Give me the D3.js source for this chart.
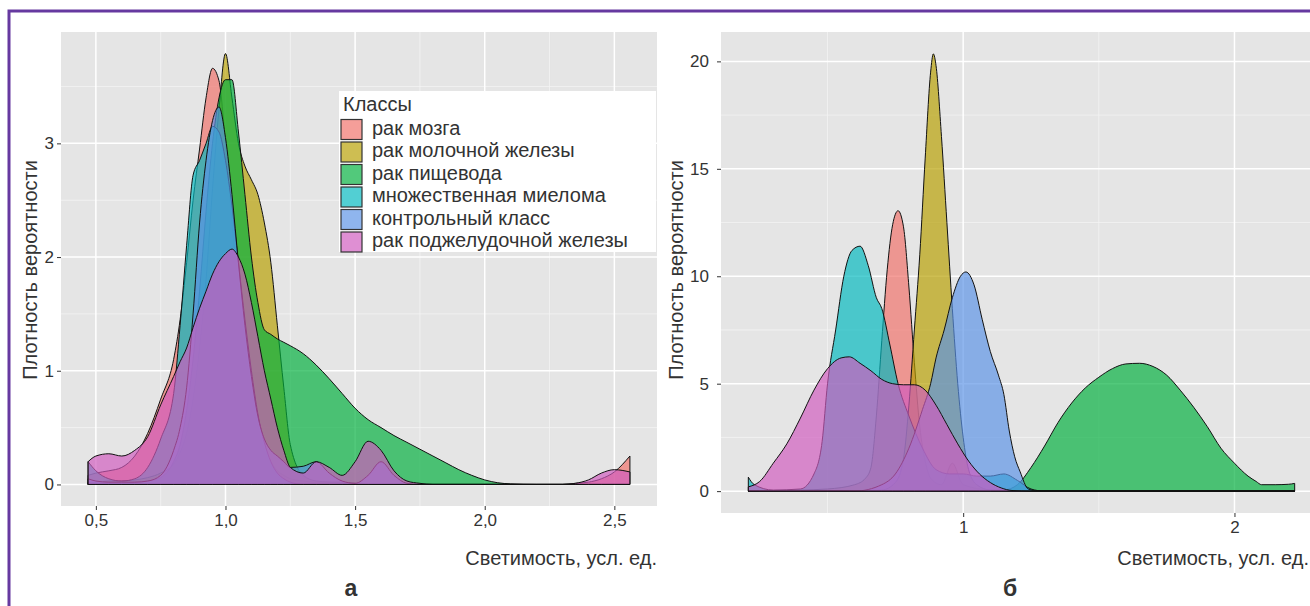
<!DOCTYPE html>
<html>
<head>
<meta charset="utf-8">
<script src="https://cdn.jsdelivr.net/npm/d3@7"></script>
<style>
  body { margin: 0; background: #fff; }
  svg text { font-family: "Liberation Sans", "DejaVu Sans", sans-serif; fill: #333; }
</style>
</head>
<body>
<svg id="fig"></svg>
<script>
// classes and fill colours (ggplot hues as they look in the printed figure)
var classes = ["рак мозга", "рак молочной железы", "рак пищевода",
  "множественная миелома", "контрольный класс", "рак поджелудочной железы"];
var colors = ["#F07068", "#B79F00", "#00B03C", "#00B8BE", "#5A92E6", "#D05ABE"];

// panel а : density values on a shared grid
var leftX = [0.47, 0.5, 0.55, 0.6, 0.65, 0.7, 0.75, 0.8, 0.825, 0.85,
  0.875, 0.9, 0.925, 0.95, 0.975, 1.0, 1.025, 1.05, 1.075, 1.1,
  1.125, 1.15, 1.175, 1.2, 1.225, 1.25, 1.3, 1.35, 1.4, 1.45,
  1.5, 1.55, 1.6, 1.65, 1.7, 1.75, 1.8, 1.85, 1.9, 1.95,
  2.0, 2.05, 2.1, 2.2, 2.3, 2.35, 2.4, 2.45, 2.5, 2.56];
var brainA = [0.08, 0.1, 0.12, 0.15, 0.25, 0.45, 0.75, 1.1, 1.45, 1.95,
  2.5, 2.95, 3.4, 3.66, 3.55, 3.0, 2.3, 1.7, 1.2, 0.8,
  0.5, 0.3, 0.2, 0.12, 0.08, 0.05, 0.03, 0.02, 0.02, 0.02,
  0.01, 0, 0, 0, 0, 0, 0, 0, 0, 0,
  0, 0, 0, 0, 0, 0.01, 0.02, 0.05, 0.11, 0.25];
var breastA = [0.02, 0.02, 0.03, 0.03, 0.04, 0.06, 0.1, 0.18, 0.28, 0.45,
  0.75, 1.2, 1.8, 2.6, 3.3, 3.79, 3.4, 3.0, 2.8, 2.68,
  2.55, 2.3, 1.95, 1.4, 0.85, 0.35, 0.08, 0.03, 0.02, 0.01,
  0, 0, 0, 0, 0, 0, 0, 0, 0, 0,
  0, 0, 0, 0, 0, 0, 0, 0, 0, 0];
var esophA = [0.01, 0.01, 0.01, 0.01, 0.02, 0.03, 0.06, 0.2, 0.35, 0.65,
  1.1, 1.7, 2.4, 3.0, 3.4, 3.56, 3.56, 3.1, 2.55, 2.0,
  1.6, 1.36, 1.32, 1.28, 1.25, 1.22, 1.15, 1.05, 0.93, 0.8,
  0.67, 0.57, 0.5, 0.43, 0.37, 0.31, 0.25, 0.19, 0.13, 0.08,
  0.04, 0.015, 0.005, 0, 0, 0, 0, 0, 0, 0];
var myelA = [0.2, 0.12, 0.05, 0.03, 0.05, 0.15, 0.4, 0.8, 1.4, 2.1,
  2.72, 2.85, 3.0, 3.15, 3.1, 2.85, 2.45, 1.95, 1.45, 1.0,
  0.62, 0.37, 0.2, 0.1, 0.05, 0.02, 0, 0, 0, 0,
  0, 0, 0, 0, 0, 0, 0, 0, 0, 0,
  0, 0, 0, 0, 0, 0, 0, 0, 0, 0];
var ctrlA = [0.05, 0.03, 0.02, 0.02, 0.02, 0.03, 0.08, 0.3, 0.5, 0.85,
  1.5, 2.3, 2.85, 3.2, 3.32, 3.05, 2.55, 1.95, 1.4, 0.95,
  0.6, 0.4, 0.3, 0.25, 0.2, 0.15, 0.16, 0.2, 0.1, 0.03,
  0.01, 0.08, 0.2, 0.08, 0.01, 0, 0, 0, 0, 0,
  0, 0, 0, 0, 0, 0, 0, 0, 0, 0];
var pancA = [0.2, 0.25, 0.27, 0.25, 0.3, 0.42, 0.7, 0.95, 1.08, 1.2,
  1.38, 1.55, 1.7, 1.85, 1.96, 2.03, 2.07, 2.0, 1.85, 1.6,
  1.3, 1.0, 0.75, 0.5, 0.3, 0.15, 0.1, 0.2, 0.15, 0.08,
  0.2, 0.38, 0.3, 0.12, 0.03, 0.01, 0, 0, 0, 0,
  0, 0, 0, 0, 0, 0.01, 0.04, 0.1, 0.13, 0.11];

// panel б : each class on its own grid
var brainBx = [0.208, 0.3, 0.4, 0.5, 0.6, 0.64, 0.66, 0.68, 0.7, 0.72, 0.74, 0.76, 0.78,
  0.8, 0.82, 0.84, 0.86, 0.88, 0.92, 0.96, 1.0, 1.1, 1.2, 1.4, 2.222];
var brainBy = [0, 0.02, 0.05, 0.1, 0.3, 0.6, 1.1, 3.5, 7, 10.3, 12.4, 13.05, 12.3,
  9.5, 6, 3, 1.4, 0.6, 0.3, 1.3, 0.3, 0.05, 0.02, 0, 0];
var breastBx = [0.208, 0.6, 0.7, 0.75, 0.78, 0.8, 0.82, 0.84, 0.86, 0.88, 0.89,
  0.9, 0.92, 0.94, 0.96, 0.98, 1.0, 1.02, 1.05, 1.1, 1.2, 2.222];
var breastBy = [0, 0, 0.05, 0.4, 1.5, 4, 7.5, 11, 15.5, 19.5, 20.35,
  19.8, 16.5, 12.5, 8.5, 5, 2.5, 1, 0.3, 0.05, 0, 0];
var esophBx = [0.208, 1.0, 1.15, 1.2, 1.25, 1.3, 1.35, 1.4, 1.45, 1.5, 1.55, 1.6, 1.65,
  1.7, 1.75, 1.8, 1.85, 1.9, 1.95, 2.0, 2.05, 2.08, 2.1, 2.15, 2.2, 2.222];
var esophBy = [0, 0, 0.05, 0.3, 1.1, 2.1, 3.2, 4.1, 4.8, 5.3, 5.7, 5.92, 5.95,
  5.8, 5.4, 4.7, 3.9, 3.0, 2.0, 1.3, 0.7, 0.45, 0.3, 0.3, 0.32, 0.36];
var myelBx = [0.208, 0.23, 0.3, 0.4, 0.45, 0.48, 0.5, 0.53, 0.56, 0.59, 0.62, 0.65, 0.68, 0.7,
  0.73, 0.76, 0.8, 0.85, 0.9, 0.95, 1.0, 1.05, 1.1, 1.15, 1.2, 1.25, 1.3, 2.222];
var myelBy = [0.65, 0.3, 0.05, 0.1, 0.8, 2.3, 5, 7.5, 10, 11.2, 11.4, 10.5, 9, 8.5,
  6.8, 5, 3.5, 2, 1, 0.8, 0.8, 0.7, 0.7, 0.8, 0.5, 0.1, 0, 0];
var ctrlBx = [0.208, 0.6, 0.7, 0.75, 0.8, 0.85, 0.88, 0.9, 0.93, 0.96, 0.99, 1.01,
  1.04, 1.07, 1.1, 1.13, 1.15, 1.17, 1.19, 1.21, 1.24, 1.28, 2.222];
var ctrlBy = [0, 0, 0.3, 0.8, 2, 3.8, 5, 6.2, 7.5, 9.0, 10.0, 10.2,
  9.6, 8.0, 6.5, 5.4, 4.5, 2.8, 1.6, 0.9, 0.1, 0, 0];
var pancBx = [0.208, 0.25, 0.3, 0.35, 0.4, 0.45, 0.5, 0.55, 0.58, 0.62, 0.66, 0.7, 0.74,
  0.78, 0.82, 0.86, 0.9, 0.94, 0.98, 1.02, 1.06, 1.1, 1.14, 1.18, 1.25, 2.222];
var pancBy = [0.2, 0.45, 1.3, 2.2, 3.4, 4.7, 5.7, 6.2, 6.25, 5.95, 5.6, 5.2, 5.0,
  4.95, 4.95, 4.7, 4.0, 3.1, 2.2, 1.4, 0.8, 0.4, 0.15, 0.03, 0, 0];

// ticks
var leftXTicks = [0.5, 1.0, 1.5, 2.0, 2.5];
var leftXLabels = ["0,5", "1,0", "1,5", "2,0", "2,5"];
var leftYTicks = [0, 1, 2, 3];
var rightXTicks = [1, 2];
var rightYTicks = [0, 5, 10, 15, 20];

var xTitle = "Светимость, усл. ед.";
var yTitle = "Плотность вероятности";

var svg = d3.select("#fig").attr("width", 1310).attr("height", 606);

function zip(xs, ys) { return xs.map(function(v, i) { return [v, ys[i]]; }); }

var leftSeries = [brainA, breastA, esophA, myelA, ctrlA, pancA].map(function(ys) { return zip(leftX, ys); });
var rightSeries = [zip(brainBx, brainBy), zip(breastBx, breastBy), zip(esophBx, esophBy),
  zip(myelBx, myelBy), zip(ctrlBx, ctrlBy), zip(pancBx, pancBy)];

function drawPanel(series, box, opts) {
  var all = d3.merge(series);
  var xe = d3.extent(all, function(d) { return d[0]; });
  var ymax = d3.max(all, function(d) { return d[1]; });
  var xpad = (xe[1] - xe[0]) * 0.05;
  var x = d3.scaleLinear().domain([xe[0] - xpad, xe[1] + xpad]).range([box.x0, box.x1]);
  var y = d3.scaleLinear().domain([-ymax * 0.05, ymax * 1.05]).range([box.y1, box.y0]);

  var g = svg.append("g");
  g.append("rect").attr("x", box.x0).attr("y", box.y0)
    .attr("width", box.x1 - box.x0).attr("height", box.y1 - box.y0)
    .attr("fill", "#e5e5e5");

  // minor + major grid
  g.selectAll(".vmin").data(opts.xMinor).enter().append("line")
    .attr("x1", x).attr("x2", x).attr("y1", box.y0).attr("y2", box.y1)
    .attr("stroke", "#f4f4f4").attr("stroke-width", 0.8);
  g.selectAll(".hmin").data(opts.yMinor).enter().append("line")
    .attr("y1", y).attr("y2", y).attr("x1", box.x0).attr("x2", box.x1)
    .attr("stroke", "#f4f4f4").attr("stroke-width", 0.8);
  g.selectAll(".vmaj").data(opts.xTicks).enter().append("line")
    .attr("x1", x).attr("x2", x).attr("y1", box.y0).attr("y2", box.y1)
    .attr("stroke", "#fff").attr("stroke-width", 1.5);
  g.selectAll(".hmaj").data(opts.yTicks).enter().append("line")
    .attr("y1", y).attr("y2", y).attr("x1", box.x0).attr("x2", box.x1)
    .attr("stroke", "#fff").attr("stroke-width", 1.5);

  var area = d3.area()
    .x(function(d) { return x(d[0]); })
    .y0(y(0))
    .y1(function(d) { return y(d[1]); })
    .curve(d3.curveMonotoneX);

  g.selectAll(".dens").data(series).enter().append("path")
    .attr("d", area)
    .attr("fill", function(d, i) { return colors[i]; })
    .attr("fill-opacity", 0.68)
    .attr("stroke", "#111")
    .attr("stroke-width", 1)
    .attr("stroke-linejoin", "round");

  var xAxis = g.append("g").attr("transform", "translate(0," + box.y1 + ")")
    .call(d3.axisBottom(x).tickValues(opts.xTicks).tickFormat(function(d, i) { return opts.xLabels[i]; })
      .tickSize(4).tickPadding(4));
  var yAxis = g.append("g").attr("transform", "translate(" + box.x0 + ",0)")
    .call(d3.axisLeft(y).tickValues(opts.yTicks).tickFormat(d3.format("d"))
      .tickSize(4).tickPadding(opts.yPad));
  [xAxis, yAxis].forEach(function(a) {
    a.attr("font-family", null).attr("font-size", null);
    a.select(".domain").remove();
    a.selectAll(".tick line").attr("stroke", "#333");
    a.selectAll(".tick text").attr("fill", "#333").style("font-size", "17px");
  });

  g.append("text").attr("x", opts.xTitleX).attr("y", 565)
    .attr("text-anchor", "end").style("font-size", "20px").text(xTitle);
  g.append("text")
    .attr("transform", "translate(" + opts.yTitleX + ",270) rotate(-90)")
    .attr("text-anchor", "middle").attr("dy", "0.35em")
    .style("font-size", "20px").text(yTitle);
  g.append("text").attr("x", opts.tagX).attr("y", 596)
    .attr("text-anchor", "middle")
    .style("font-size", "23px").style("font-weight", "700")
    .text(opts.tag);
  return { x: x, y: y };
}

drawPanel(leftSeries, { x0: 61, x1: 657, y0: 32, y1: 506 }, {
  xTicks: leftXTicks, xLabels: leftXLabels, xMinor: [0.75, 1.25, 1.75, 2.25],
  yTicks: leftYTicks, yMinor: [0.5, 1.5, 2.5, 3.5], yPad: 3,
  xTitleX: 657, yTitleX: 30, tagX: 351, tag: "а"
});
drawPanel(rightSeries, { x0: 721, x1: 1322, y0: 32, y1: 513 }, {
  xTicks: rightXTicks, xLabels: rightXTicks.map(String), xMinor: [0.5, 1.5],
  yTicks: rightYTicks, yMinor: [2.5, 7.5, 12.5, 17.5], yPad: 8,
  xTitleX: 1309, yTitleX: 676, tagX: 1010, tag: "б"
});

// legend inside panel а
var legend = svg.append("g");
legend.append("rect").attr("x", 339).attr("y", 91).attr("width", 317).attr("height", 161)
  .attr("fill", "#fff");
legend.append("text").attr("x", 343).attr("y", 111).style("font-size", "20px").text("Классы");
var rows = legend.selectAll(".row").data(classes).enter().append("g")
  .attr("transform", function(d, i) { return "translate(341," + (119.5 + i * 22.5) + ")"; });
rows.append("rect").attr("width", 21).attr("height", 20)
  .attr("fill", function(d, i) { return colors[i]; }).attr("fill-opacity", 0.68)
  .attr("stroke", "#333").attr("stroke-width", 1.2);
rows.append("text").attr("x", 31).attr("y", 15).style("font-size", "20px")
  .text(function(d) { return d; });

// purple frame (left and top edges only are visible)
svg.append("path").attr("d", "M9,606V11H1310")
  .attr("fill", "none").attr("stroke", "#6639a0").attr("stroke-width", 3);
</script>
</body>
</html>
